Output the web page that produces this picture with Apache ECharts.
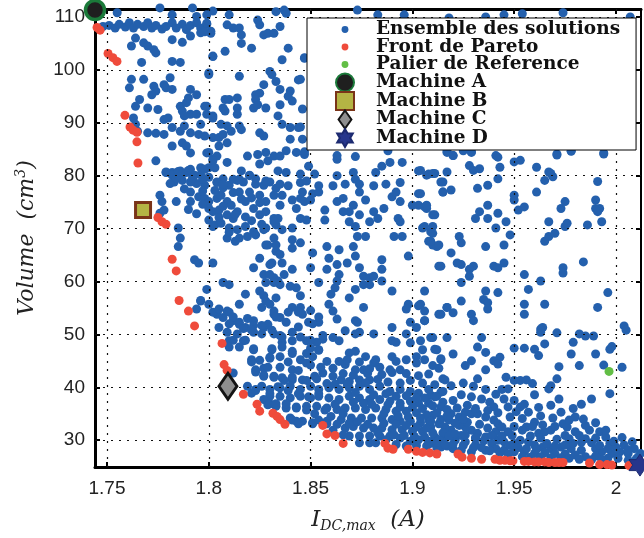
<!DOCTYPE html>
<html><head><meta charset="utf-8">
<script src="https://cdn.jsdelivr.net/npm/echarts@6/dist/echarts.min.js"></script>
<style>html,body{margin:0;padding:0;background:#fff}#c{width:644px;height:538px}</style>
</head><body><div id="c"></div>
<script>
const xTicks = [1.75, 1.8, 1.85, 1.9, 1.95, 2.0];
const yTicks = [30, 40, 50, 60, 70, 80, 90, 100, 110];
const legendNames = ['Ensemble des solutions','Front de Pareto','Palier de Reference','Machine A','Machine B','Machine C','Machine D'];

const ensembleHautGauche = [[1.748,108.2],[1.751,108.4],[1.754,107.9],[1.756,108.6],[1.759,108.1],[1.761,108.9],[1.763,107.9],[1.765,108.6],[1.768,108.2],[1.770,108.9],[1.772,107.9],[1.774,108.4],[1.777,107.7],[1.779,108.2],[1.782,108.9],[1.784,107.9],[1.787,108.6],[1.789,107.6],[1.791,108.4],[1.794,108.9],[1.796,107.9],[1.799,108.6],[1.801,107.3],[1.755,110.8],[1.776,111.7],[1.782,110.4],[1.792,111.7],[1.794,110.1],[1.802,111.1],[1.764,106.0],[1.762,104.5],[1.768,105.1],[1.770,104.5],[1.773,103.8],[1.774,103.2],[1.782,105.7],[1.787,105.2],[1.791,106.4],[1.796,107.0],[1.767,101.4],[1.782,101.6],[1.786,101.4],[1.802,102.6],[1.800,99.4],[1.762,98.2],[1.761,96.6],[1.768,98.2],[1.773,96.9],[1.778,97.2],[1.774,96.0],[1.779,96.6],[1.782,96.3],[1.772,95.3],[1.766,94.4],[1.764,93.1],[1.770,92.8],[1.775,92.5],[1.781,98.5],[1.786,93.1],[1.787,92.2],[1.789,93.8],[1.791,96.3],[1.794,95.3],[1.790,94.7],[1.791,91.6],[1.788,91.3],[1.794,91.6],[1.796,89.7],[1.799,93.1],[1.802,91.3],[1.763,90.9],[1.764,89.7],[1.765,88.4],[1.770,88.1],[1.774,88.0],[1.778,87.8],[1.778,90.6],[1.780,90.9],[1.782,89.1],[1.786,88.4],[1.788,89.4],[1.791,88.1],[1.795,87.8],[1.799,84.3],[1.802,87.2],[1.787,86.2],[1.789,85.6],[1.791,84.3],[1.782,85.6],[1.774,82.8],[1.779,80.6],[1.782,80.6],[1.786,80.9],[1.789,80.6],[1.791,81.2],[1.796,81.5],[1.800,81.5],[1.802,83.1]];

const ensembleMilieuGauche = [[1.779,80.7],[1.782,80.1],[1.785,80.8],[1.787,80.4],[1.790,81.0],[1.793,80.1],[1.796,80.2],[1.783,78.8],[1.787,79.1],[1.791,78.8],[1.794,78.5],[1.798,78.2],[1.781,78.5],[1.776,76.3],[1.784,75.1],[1.791,75.1],[1.795,76.0],[1.791,76.9],[1.798,75.7],[1.800,75.1],[1.804,75.7],[1.806,76.3],[1.809,75.1],[1.811,74.4],[1.800,73.8],[1.802,73.2],[1.805,73.5],[1.809,72.6],[1.812,71.9],[1.814,73.2],[1.800,71.6],[1.803,70.7],[1.806,71.0],[1.810,70.1],[1.814,69.8],[1.818,70.4],[1.822,69.4],[1.815,68.2],[1.809,68.2],[1.802,70.4],[1.804,78.8],[1.807,79.4],[1.810,78.2],[1.814,79.1],[1.817,78.8],[1.820,80.1],[1.823,79.4],[1.827,78.2],[1.830,78.8],[1.833,77.6],[1.815,76.9],[1.820,76.9],[1.825,76.3],[1.828,75.1],[1.832,76.3],[1.835,74.4],[1.818,75.1],[1.822,73.8],[1.825,72.6],[1.828,73.2],[1.832,71.9],[1.833,70.7],[1.828,70.1],[1.823,68.8],[1.832,68.2],[1.828,66.9],[1.833,65.7],[1.825,64.4],[1.831,63.5],[1.822,62.6],[1.827,61.3],[1.832,60.7],[1.834,60.1],[1.777,75.1],[1.776,72.9],[1.778,73.5],[1.785,70.1],[1.786,68.2],[1.785,66.6],[1.793,64.1],[1.795,63.5],[1.802,63.5],[1.807,59.8],[1.810,59.4],[1.799,58.5],[1.796,56.3],[1.794,54.8],[1.800,55.7],[1.804,53.8],[1.807,53.2],[1.809,54.4],[1.812,52.6],[1.815,51.9],[1.818,51.3],[1.822,50.4],[1.814,50.1],[1.810,48.8],[1.817,48.8],[1.822,52.6],[1.826,55.1],[1.832,53.8],[1.828,56.3],[1.833,56.9],[1.825,58.2],[1.818,57.6],[1.815,55.7],[1.805,51.3],[1.809,50.4],
[1.803,77.2],[1.807,77.7],[1.812,76.8],[1.816,75.6],[1.821,75.8],[1.825,74.9],[1.807,74.2],[1.813,72.7],[1.818,72.2],[1.821,71.5],[1.826,70.8],[1.805,72.1],[1.810,69.3],[1.819,68.5],[1.813,67.6],[1.797,77.1],[1.788,77.5],[1.792,79.6],[1.784,79.5],[1.797,74.6],[1.790,73.6],[1.794,72.8]];

const ensembleHautCentre = [[1.799,110.4],[1.799,108.8],[1.798,107.2],[1.801,106.9],[1.810,110.4],[1.809,108.5],[1.812,107.9],[1.815,107.9],[1.816,106.6],[1.824,109.4],[1.825,108.5],[1.833,111.0],[1.837,111.3],[1.838,110.7],[1.835,108.2],[1.827,106.6],[1.829,106.9],[1.832,106.9],[1.816,105.0],[1.821,104.1],[1.808,103.5],[1.802,102.5],[1.839,104.1],[1.836,101.9],[1.847,102.2],[1.800,99.1],[1.815,98.8],[1.830,99.7],[1.831,99.1],[1.833,97.8],[1.844,98.1],[1.827,97.2],[1.835,96.3],[1.840,96.0],[1.839,95.0],[1.823,95.3],[1.825,95.6],[1.823,94.4],[1.814,94.7],[1.808,94.4],[1.810,94.4],[1.798,93.1],[1.799,91.6],[1.802,90.9],[1.807,92.8],[1.808,92.2],[1.814,92.8],[1.814,91.6],[1.822,92.8],[1.824,93.4],[1.828,92.8],[1.835,93.4],[1.841,94.1],[1.834,91.3],[1.836,89.7],[1.840,89.1],[1.844,89.1],[1.806,89.7],[1.809,89.4],[1.811,88.4],[1.815,89.4],[1.816,88.7],[1.825,88.1],[1.827,87.5],[1.840,86.9],[1.805,87.2],[1.807,87.8],[1.798,87.5],[1.800,84.4],[1.805,85.6],[1.809,86.2],[1.804,83.7],[1.802,82.8],[1.798,81.2],[1.803,81.5],[1.809,82.5],[1.819,83.7],[1.824,84.0],[1.828,84.4],[1.832,83.7],[1.835,83.7],[1.838,84.7],[1.843,84.4],[1.847,84.0],[1.849,81.8],[1.825,82.2],[1.829,82.8],[1.834,80.9],[1.838,80.6],[1.845,80.3],[1.852,80.3],[1.863,83.1],[1.863,80.0],[1.871,80.6],[1.872,79.3],[1.882,80.6],[1.885,81.8],[1.889,82.5],[1.895,82.5],[1.903,80.9],[1.908,80.3],[1.816,80.9],[1.812,79.3],[1.815,79.3],[1.820,80.0],[1.823,78.4],[1.828,79.0],[1.835,78.4],[1.839,78.1],[1.845,78.7],[1.848,79.0],[1.800,79.7],[1.797,79.3],[1.804,78.7],[1.807,78.4],[1.894,78.7],[1.887,78.4],[1.881,78.1],[1.874,78.4],[1.867,78.4],[1.861,78.1],[1.854,78.1],
[1.873,111.3],[1.883,110.4],[1.896,110.4],[1.918,109.8],[1.936,110.0],[1.945,110.4],[1.954,110.6],[1.974,110.8],[2.007,110.0],[1.847,102.3],[1.845,98.2],[1.846,92.6],[1.845,89.2],[1.846,86.9],[1.847,84.5],[1.863,83.8],[1.872,83.6],[1.888,84.7],[1.917,84.7],[1.920,83.8],[1.925,84.7],[1.929,84.5],[1.941,83.8],[1.971,84.1],[1.978,84.7],[1.994,84.3]];

const ensembleCentre = [[1.836,76.3],[1.841,75.4],[1.845,75.7],[1.847,75.1],[1.850,75.4],[1.851,76.6],[1.854,76.9],[1.846,76.9],[1.843,73.8],[1.845,71.9],[1.848,71.6],[1.834,71.9],[1.832,71.3],[1.836,69.8],[1.841,70.1],[1.841,67.9],[1.845,67.3],[1.841,66.3],[1.827,69.8],[1.829,66.9],[1.833,66.9],[1.835,65.1],[1.836,63.5],[1.830,63.2],[1.830,61.3],[1.837,61.3],[1.841,62.3],[1.850,62.6],[1.851,65.4],[1.858,66.6],[1.864,66.0],[1.859,64.4],[1.858,62.3],[1.863,63.2],[1.864,61.3],[1.868,63.5],[1.871,66.6],[1.872,64.8],[1.874,62.6],[1.876,61.0],[1.879,60.7],[1.881,61.0],[1.879,59.4],[1.876,59.4],[1.872,58.5],[1.869,56.9],[1.863,60.1],[1.862,58.8],[1.860,57.6],[1.854,59.8],[1.845,57.3],[1.843,58.8],[1.840,59.1],[1.835,59.4],[1.832,59.8],[1.828,59.8],[1.827,57.3],[1.830,55.7],[1.832,54.4],[1.835,53.2],[1.841,55.1],[1.845,55.1],[1.846,53.8],[1.849,52.3],[1.854,52.3],[1.859,55.7],[1.861,54.4],[1.863,52.9],[1.872,52.6],[1.873,52.3],[1.876,55.1],[1.881,50.1],[1.890,51.3],[1.890,48.8],[1.892,48.5],[1.897,50.1],[1.899,52.3],[1.902,51.3],[1.906,52.6],[1.903,55.4],[1.898,55.7],[1.897,54.8],[1.890,58.2],[1.885,60.1],[1.885,62.3],[1.885,64.1],[1.898,64.8],[1.913,62.9],[1.917,55.1],[1.913,53.8],[1.910,49.4],[1.904,48.8],[1.917,49.4],[1.872,50.1],[1.874,50.4],[1.867,50.7],[1.864,48.8],[1.861,49.4],[1.856,49.1],[1.853,48.5],[1.848,48.8],[1.841,48.8],[1.836,48.5],[1.832,50.1],[1.835,49.8],[1.827,51.3],[1.829,51.9],[1.910,66.9],[1.912,66.6],[1.908,67.6],[1.905,70.1],[1.909,69.4],[1.910,72.6],[1.907,73.8],[1.903,74.4],[1.900,74.4],[1.903,76.6],[1.911,80.4],[1.914,78.8],[1.915,76.9],[1.894,75.1],[1.893,71.9],[1.894,71.3],[1.890,76.0],[1.892,76.9],[1.874,76.9],[1.877,75.4],[1.881,73.2],[1.883,71.9],[1.886,73.8],[1.879,71.3],[1.874,72.6],[1.869,73.2],[1.869,71.3],[1.872,70.4],[1.873,68.5],[1.877,68.5],[1.891,68.5],[1.895,68.5],[1.866,73.2],[1.863,75.1],[1.866,75.7],[1.871,74.4],[1.857,73.5],[1.857,71.6]];

const ensembleDroite = [[1.917,84.4],[1.920,83.8],[1.925,85.1],[1.929,84.4],[1.928,81.9],[1.930,81.0],[1.933,81.3],[1.942,83.5],[1.943,81.6],[1.950,82.6],[1.953,82.9],[1.961,81.6],[1.971,83.9],[1.978,84.6],[1.994,84.1],[1.904,81.0],[1.907,80.1],[1.910,80.4],[1.917,80.7],[1.915,78.8],[1.915,76.9],[1.919,77.3],[1.932,77.6],[1.937,78.2],[1.942,79.4],[1.904,76.6],[1.906,74.1],[1.907,74.4],[1.911,72.6],[1.906,70.4],[1.910,70.4],[1.910,69.1],[1.909,67.6],[1.913,66.9],[1.931,71.9],[1.933,73.2],[1.937,74.4],[1.937,71.9],[1.942,72.9],[1.941,70.1],[1.946,71.3],[1.950,76.3],[1.950,75.4],[1.952,73.5],[1.955,74.1],[1.948,68.8],[1.945,66.9],[1.936,66.6],[1.923,68.5],[1.924,67.3],[1.919,65.4],[1.961,76.9],[1.965,79.1],[1.967,80.7],[1.968,80.4],[1.969,79.8],[1.967,71.3],[1.965,67.6],[1.967,68.5],[1.970,69.1],[1.973,73.8],[1.975,75.1],[1.975,70.4],[1.976,71.0],[1.986,70.7],[1.990,75.4],[1.990,73.8],[1.992,73.8],[1.991,73.2],[1.993,71.3],[1.991,78.9],[1.984,63.7],[1.974,62.6],[1.974,61.6],[1.955,61.3],[1.963,60.1],[1.957,58.5],[1.945,63.5],[1.940,62.9],[1.942,62.6],[1.930,62.9],[1.928,62.3],[1.928,61.0],[1.924,63.2],[1.922,63.5],[1.914,62.9],[1.924,59.8],[1.936,58.2],[1.942,57.9],[1.935,56.6],[1.937,56.0],[1.937,54.8],[1.924,56.3],[1.917,55.1],[1.920,54.1],[1.914,53.8],[1.906,58.2],[1.904,55.7],[1.906,54.4],[1.906,52.6],[1.929,53.8],[1.930,52.6],[1.955,55.7],[1.955,53.8],[1.965,55.7],[1.964,51.3],[1.991,55.1],[1.996,57.9],[2.004,51.6]];

const ensembleBasDroite = [[1.909,49.4],[1.911,47.2],[1.914,45.4],[1.910,44.1],[1.920,46.3],[1.926,44.1],[1.929,45.0],[1.932,47.6],[1.934,49.4],[1.936,46.6],[1.940,45.0],[1.943,45.7],[1.942,44.4],[1.936,43.3],[1.932,41.6],[1.915,41.6],[1.919,40.3],[1.950,47.4],[1.955,47.4],[1.960,47.2],[1.962,46.0],[1.963,50.4],[1.963,51.0],[1.971,50.3],[1.965,48.2],[1.982,50.1],[1.985,49.7],[1.989,49.7],[1.979,48.5],[1.978,46.3],[1.990,46.3],[1.982,44.1],[1.972,43.9],[1.971,41.6],[1.994,44.2],[1.997,47.2],[1.998,47.7],[2.005,50.8],[2.003,43.8],[1.946,41.9],[1.950,41.3],[1.953,41.3],[1.956,41.4],[1.959,40.7],[1.967,39.7],[1.968,40.3],[1.947,39.7],[1.945,37.8],[1.950,37.5],[1.953,36.3],[1.934,37.8],[1.938,37.2],[1.940,36.3],[1.947,36.3],[1.997,38.8],[1.988,37.8],[1.983,36.8],[1.979,36.0],[1.973,35.3],[1.980,34.4],[1.974,33.1],[1.909,38.5],[1.911,38.2],[1.914,39.1],[1.915,37.2],[1.914,36.3],[1.920,37.5],[1.919,35.0],[1.908,33.8],[1.910,34.7],[1.923,34.4],[1.926,35.3],[1.929,35.0],[1.932,35.0],[1.936,34.4],[1.940,33.8],[1.942,33.1],[1.948,34.4],[1.954,34.1],[1.957,35.3],[1.960,33.4],[1.956,32.5],[1.954,31.9],[1.949,30.9],[1.962,31.3],[1.965,31.6],[1.968,31.9],[1.975,30.9],[1.980,31.6],[1.985,30.3],[1.987,31.9],[1.992,31.6],[1.995,30.6],[1.997,29.4],[2.000,28.7],[2.004,29.1],[2.008,29.7],[2.009,28.4],[2.012,27.5],[2.011,26.9],[2.006,27.5],[2.002,27.8],[1.998,27.5],[1.993,27.8],[1.990,28.4],[1.983,28.1],[1.978,28.4],[1.973,28.7],[1.968,28.4],[1.964,28.7],[1.960,29.1],[1.957,29.7],[1.953,30.0],[1.950,29.4],[1.945,29.7],[1.942,30.0],[1.939,29.4],[1.936,30.6],[1.932,31.3],[1.929,31.9],[1.926,32.5],[1.923,32.8],[1.919,31.9],[1.916,32.5],[1.913,33.1],[1.909,32.5],[1.911,30.6],[1.915,30.3],[1.921,30.0],[1.926,29.7],[1.931,29.1],[1.936,28.1],[1.941,28.4],[1.945,28.1],[1.950,27.8],[1.955,27.8],[1.960,27.5],[1.965,27.6],[1.970,27.5],[1.975,27.4],[1.980,27.2],[1.985,26.9],[1.990,27.0],[1.996,26.6],[2.001,26.6],[2.006,26.2],[1.909,29.4],[1.914,28.7],[1.920,28.4],[1.924,28.1],[1.929,27.8],[1.931,30.3],[1.947,31.6],[1.941,31.6],[1.918,33.8],[1.927,33.4],[1.924,30.9]];

const ensembleBasCentre = [[1.822,47.1],[1.821,45.2],[1.823,43.3],[1.827,43.6],[1.831,47.1],[1.830,45.5],[1.835,45.8],[1.841,46.8],[1.845,45.2],[1.841,43.3],[1.848,44.6],[1.851,45.8],[1.850,47.4],[1.854,47.1],[1.858,44.9],[1.861,43.6],[1.864,44.9],[1.867,44.3],[1.869,46.5],[1.872,43.3],[1.876,43.3],[1.881,44.6],[1.882,45.2],[1.877,45.8],[1.872,46.8],[1.890,45.8],[1.892,44.9],[1.897,45.2],[1.902,44.6],[1.906,45.2],[1.905,47.1],[1.912,47.1],[1.914,45.2],[1.913,43.6],[1.902,45.8],[1.899,48.4],[1.894,43.3],[1.889,43.3],[1.885,42.4],[1.879,41.4],[1.874,41.4],[1.869,41.1],[1.865,41.4],[1.861,42.1],[1.856,42.7],[1.852,42.1],[1.846,41.4],[1.841,41.4],[1.836,41.8],[1.832,42.1],[1.827,42.1],[1.823,39.6],[1.821,38.9],[1.826,40.2],[1.830,39.6],[1.835,39.9],[1.840,40.2],[1.845,39.6],[1.850,40.2],[1.854,39.6],[1.859,39.9],[1.864,39.6],[1.869,39.9],[1.874,40.2],[1.879,39.6],[1.884,40.2],[1.889,39.2],[1.894,39.6],[1.899,39.2],[1.903,38.9],[1.908,39.6],[1.912,38.3],[1.916,41.4],[1.915,39.2],[1.908,37.0],[1.903,37.0],[1.899,37.4],[1.894,37.0],[1.889,37.4],[1.884,37.7],[1.879,37.7],[1.874,38.0],[1.869,38.3],[1.864,37.7],[1.859,38.0],[1.854,38.3],[1.850,38.0],[1.845,38.3],[1.840,38.0],[1.835,38.3],[1.830,38.3],[1.827,37.7],[1.829,36.7],[1.833,36.4],[1.838,36.1],[1.843,36.1],[1.848,36.4],[1.853,36.4],[1.858,36.1],[1.863,35.8],[1.867,36.1],[1.872,36.1],[1.877,35.8],[1.882,36.1],[1.887,35.8],[1.892,35.5],[1.897,35.5],[1.902,35.2],[1.907,34.8],[1.912,35.2],[1.917,35.8],[1.914,33.9],[1.909,33.6],[1.904,33.3],[1.899,33.6],[1.894,33.6],[1.890,33.9],[1.885,34.2],[1.880,34.2],[1.875,34.2],[1.870,34.2],[1.865,33.9],[1.860,34.5],[1.840,34.2],[1.843,33.6],[1.846,33.6],[1.851,33.3],[1.858,33.6],[1.863,33.0],[1.867,32.3],[1.871,32.6],[1.876,32.3],[1.881,32.3],[1.885,32.3],[1.890,32.0],[1.895,32.0],[1.900,31.7],[1.905,31.7],[1.910,31.4],[1.915,31.4],[1.918,30.8],[1.913,30.1],[1.908,29.8],[1.903,30.1],[1.899,29.8],[1.894,30.4],[1.889,30.8],[1.884,30.8],[1.879,30.8],[1.874,30.8],[1.869,30.8],[1.874,29.5],[1.879,29.5],[1.882,29.5],[1.892,29.2],[1.897,28.9],[1.902,29.0],[1.907,28.9],[1.912,28.6],[1.917,28.9],
[1.796,56.4],[1.802,54.2],[1.805,54.8],[1.810,54.2],[1.812,53.3],[1.810,52.0],[1.815,52.3],[1.819,53.0],[1.817,51.1],[1.822,51.7],[1.826,51.7],[1.833,53.3],[1.839,54.2],[1.844,54.2],[1.850,54.5],[1.854,53.3],[1.851,52.0],[1.844,51.4],[1.838,52.3],[1.831,50.8],[1.826,50.1],[1.821,50.8],[1.812,48.9],[1.818,48.9],[1.815,47.6],[1.822,47.3],[1.810,47.6],[1.831,47.3],[1.836,49.5],[1.841,50.4],[1.845,49.5],[1.850,48.9],[1.856,49.8],[1.854,47.0],[1.848,46.4],[1.841,46.4],[1.836,47.6],[1.830,45.7],[1.825,45.1],[1.821,44.8],[1.829,43.8],[1.835,43.8],[1.839,44.8],[1.844,43.2],[1.850,44.2],[1.855,43.8],[1.853,41.6],[1.848,41.3],[1.841,41.9],[1.837,41.3],[1.832,41.9],[1.827,42.3],[1.823,42.9],[1.819,40.2],[1.812,42.7],[1.823,39.4],[1.830,38.8],[1.834,40.1],[1.839,39.4],[1.844,38.8],[1.849,38.2],[1.854,38.8],[1.858,40.7],[1.830,36.9],[1.833,36.9],[1.838,36.9],[1.843,36.3],[1.848,35.7],[1.852,35.0],[1.857,35.7],[1.841,33.8],[1.844,33.1],[1.851,33.1],[1.854,33.8],[1.858,33.1]];

const ensembleBandeDense = [[1.861,31.9],[1.866,31.0],[1.869,33.2],[1.873,33.5],[1.878,33.0],[1.862,36.8],[1.866,35.0],[1.871,37.2],[1.876,37.0],[1.880,36.8],[1.862,40.6],[1.868,40.5],[1.872,39.0],[1.877,40.8],[1.881,38.6],[1.866,42.6],[1.871,42.3],[1.878,42.6],[1.883,41.5],[1.868,45.2],[1.874,44.8],[1.879,43.5],[1.884,43.8],
[1.883,31.4],[1.887,30.1],[1.891,31.0],[1.896,30.9],[1.901,30.7],[1.906,30.6],[1.886,33.2],[1.892,33.0],[1.897,32.8],[1.902,32.5],[1.907,32.3],[1.886,35.0],[1.893,34.6],[1.898,34.4],[1.904,34.2],[1.888,36.7],[1.894,36.3],[1.900,36.2],[1.905,36.0],[1.887,38.8],[1.892,38.3],[1.897,38.4],[1.902,38.0],[1.906,38.0],[1.888,41.0],[1.894,40.8],[1.899,41.3],[1.905,40.8],[1.890,42.8],[1.897,42.6],[1.903,42.2],[1.908,42.5],[1.911,40.5],[1.910,36.5],
[1.912,29.6],[1.916,29.2],[1.920,29.3],[1.925,29.0],[1.930,28.6],[1.934,28.6],[1.938,28.0],[1.943,27.6],[1.947,27.4],[1.921,31.2],[1.926,31.0],[1.931,30.5],[1.935,29.9],[1.939,30.9],[1.944,30.8],[1.948,29.0],[1.917,34.6],[1.921,33.2],[1.925,34.0],[1.933,33.0],[1.937,32.3],[1.944,32.5],[1.950,32.6],[1.922,36.1],[1.927,36.6],[1.931,36.0],[1.937,35.6],[1.942,35.2],[1.951,35.4],[1.924,38.6],[1.929,38.2],[1.936,39.6],[1.941,38.7],[1.944,39.6],[1.925,40.8],[1.930,40.2],
[1.952,28.6],[1.956,28.4],[1.961,28.3],[1.966,29.4],[1.970,28.9],[1.975,29.1],[1.979,29.4],[1.983,29.6],[1.988,29.5],[1.992,29.0],[1.996,28.4],[1.999,29.8],[1.954,26.9],[1.958,26.8],[1.963,26.8],[1.968,26.7],[1.973,26.7],[1.977,26.6],[1.982,26.4],[1.988,26.3],[1.993,26.3],[1.958,30.8],[1.963,30.4],[1.971,30.2],[1.977,30.3],[1.982,30.9],[1.990,30.4],[1.995,31.9],[1.959,32.6],[1.964,32.9],[1.970,32.6],[1.976,32.5],[1.985,32.8],[1.990,33.3],[1.963,34.6],[1.969,34.2],[1.977,33.8],[1.984,34.0],[1.955,36.8],[1.962,36.2],[1.968,36.6],[1.960,38.6],[1.972,37.8],[2.003,30.5],[2.006,28.2],[2.010,26.5]];

const frontPareto = [[1.7451,108.0],[1.7466,107.5],[1.7505,103.1],[1.7529,102.3],[1.7549,101.6],[1.7588,91.4],[1.7613,89.2],[1.7628,88.6],[1.7647,88.2],[1.7647,86.4],[1.7652,82.4],[1.775,72.1],[1.777,71.3],[1.779,70.8],[1.782,64.2],[1.784,62.0],[1.7854,56.4],[1.790,54.4],[1.793,51.6],[1.8065,48.3],[1.8075,44.3],[1.809,43.2],[1.817,38.7],[1.8237,36.8],[1.825,35.5],[1.8315,35.1],[1.8335,34.5],[1.835,33.9],[1.8374,33.0],[1.856,32.8],[1.858,31.2],[1.862,30.9],[1.866,29.4],[1.8865,29.4],[1.888,28.5],[1.8905,28.3],[1.898,28.3],[1.902,27.9],[1.905,27.7],[1.9086,27.6],[1.912,27.4],[1.9224,27.4],[1.9244,26.8],[1.929,26.6],[1.934,26.4],[1.9406,26.4],[1.943,26.2],[1.9455,26.2],[1.948,26.1],[1.9494,26.1],[1.955,26.0],[1.957,26.0],[1.960,25.9],[1.962,25.9],[1.965,25.9],[1.967,25.8],[1.970,25.8],[1.972,25.8],[1.974,25.8],[1.987,25.7],[1.992,25.4],[1.9956,25.4],[1.998,25.3],[2.0064,25.2]];

const palierReference = [[1.9966, 43.0]];
const machineA = [[1.7441, 111.3]];
const machineB = [[1.7677, 73.5]];
const machineC = [[1.8094, 40.2]];
const machineD = [[2.0118, 25.3]];

const ensemble = [].concat(ensembleHautGauche, ensembleMilieuGauche, ensembleHautCentre, ensembleCentre, ensembleDroite, ensembleBasDroite, ensembleBasCentre, ensembleBandeDense);

const hexagram = 'path://M0,-10L2.887,-5L8.66,-5L5.774,0L8.66,5L2.887,5L0,10L-2.887,5L-8.66,5L-5.774,0L-8.66,-5L-2.887,-5Z';
const dotIcon = 'path://M0,0M20,20M10,6.2A3.8,3.8,0,1,1,10,13.8A3.8,3.8,0,1,1,10,6.2Z';
const diamondIcon = 'path://M0,-14L10,0L0,14L-10,0Z';

const BLUE = '#2460ad', RED = '#ef4b3b', GREEN = '#62be45';
const tickFont = {fontFamily: 'Liberation Sans', fontSize: 19, color: '#222'};
const serif = 'DejaVu Serif';

const chart = echarts.init(document.getElementById('c'), null, {renderer: 'canvas'});
const gridLines = xTicks.map(v => ({xAxis: v})).concat(yTicks.map(v => ({yAxis: v})));

chart.setOption({
  animation: false,
  backgroundColor: '#fff',
  grid: {left: 95, top: 9, width: 546, height: 462, containLabel: false},
  xAxis: [{
    type: 'value', min: 1.7441, max: 2.0123, position: 'bottom',
    axisLine: {show: true, onZero: false, lineStyle: {color: '#000', width: 3}},
    axisTick: {show: true, inside: true, length: 5, customValues: xTicks, lineStyle: {color: '#000', width: 2}},
    axisLabel: {show: true, customValues: xTicks, margin: 12, ...tickFont, formatter: v => String(v)},
    splitLine: {show: false},
    name: '{i|I}{s|DC,max}{n|  (A)}', nameLocation: 'middle', nameGap: 40,
    nameTextStyle: {fontFamily: serif, fontStyle: 'italic', fontSize: 23, color: '#222',
      rich: {i: {fontFamily: serif, fontStyle: 'italic', fontSize: 23, color: '#222'},
             s: {fontFamily: serif, fontStyle: 'italic', fontSize: 14, color: '#222', padding: [12, 0, 0, 0]},
             n: {fontFamily: serif, fontStyle: 'italic', fontSize: 23, color: '#222'}}}
  }, {
    type: 'value', min: 1.7441, max: 2.0123, position: 'top',
    axisLine: {show: true, onZero: false, lineStyle: {color: '#000', width: 3}},
    axisTick: {show: true, inside: true, length: 5, customValues: xTicks, lineStyle: {color: '#000', width: 2}},
    axisLabel: {show: false}, splitLine: {show: false}
  }],
  yAxis: [{
    type: 'value', min: 24.94, max: 111.5, position: 'left',
    axisLine: {show: true, onZero: false, lineStyle: {color: '#000', width: 3}},
    axisTick: {show: true, inside: true, length: 5, customValues: yTicks, lineStyle: {color: '#000', width: 2}},
    axisLabel: {show: true, customValues: yTicks, margin: 10, ...tickFont},
    splitLine: {show: false},
    name: '{v|Volume  (cm}{e|3}{v|)}', nameLocation: 'middle', nameGap: 55, nameRotate: 90,
    nameTextStyle: {fontFamily: serif, fontStyle: 'italic', fontSize: 22, color: '#222',
      rich: {v: {fontFamily: serif, fontStyle: 'italic', fontSize: 22, color: '#222'},
             e: {fontFamily: serif, fontStyle: 'italic', fontSize: 14, color: '#222', padding: [0, 0, 12, 0]}}}
  }, {
    type: 'value', min: 24.94, max: 111.5, position: 'right',
    axisLine: {show: true, onZero: false, lineStyle: {color: '#000', width: 2}},
    axisTick: {show: true, inside: true, length: 5, customValues: yTicks, lineStyle: {color: '#000', width: 2}},
    axisLabel: {show: false}, splitLine: {show: false}
  }],
  legend: {
    orient: 'vertical', left: 307, top: 18, padding: [2, 16, 2, 28],
    backgroundColor: '#fff', borderColor: '#000', borderWidth: 1, borderRadius: 0,
    itemWidth: 18, itemHeight: 18, itemGap: -1.5, z: 20, selectedMode: false,
    textStyle: {fontFamily: serif, fontSize: 18.5, fontWeight: 'bold', color: '#111', padding: [0, 0, 0, 17]},
    data: [
      {name: legendNames[0], icon: dotIcon},
      {name: legendNames[1], icon: dotIcon},
      {name: legendNames[2], icon: dotIcon},
      {name: legendNames[3], icon: 'circle'},
      {name: legendNames[4], icon: 'rect'},
      {name: legendNames[5], icon: diamondIcon},
      {name: legendNames[6], icon: hexagram}
    ]
  },
  series: [
    {name: 'grille', type: 'scatter', data: [], z: 1, silent: true,
     markLine: {silent: true, symbol: ['none', 'none'], label: {show: false}, animation: false,
       lineStyle: {type: [2, 6], color: '#111', width: 1.2}, emphasis: {disabled: true}, data: gridLines}},
    {name: legendNames[0], type: 'scatter', data: ensemble, symbol: 'circle', symbolSize: 9, clip: false, z: 2,
     itemStyle: {color: BLUE, opacity: 1}},
    {name: legendNames[1], type: 'scatter', data: frontPareto, symbol: 'circle', symbolSize: 9, clip: false, z: 3,
     itemStyle: {color: RED, opacity: 1}},
    {name: legendNames[2], type: 'scatter', data: palierReference, symbol: 'circle', symbolSize: 9, clip: false, z: 4,
     itemStyle: {color: GREEN, opacity: 1}},
    {name: legendNames[3], type: 'scatter', data: machineA, symbol: 'circle', symbolSize: 19, clip: false, z: 5,
     itemStyle: {color: '#1f1f1f', borderColor: '#1b7a3a', borderWidth: 3.5, opacity: 1}},
    {name: legendNames[4], type: 'scatter', data: machineB, symbol: 'rect', symbolSize: 15, clip: false, z: 5,
     itemStyle: {color: '#b4b444', borderColor: '#7a3418', borderWidth: 3, opacity: 1}},
    {name: legendNames[5], type: 'scatter', data: machineC, symbol: diamondIcon, symbolSize: [18, 26], clip: false, z: 5,
     itemStyle: {color: '#8e8e8e', borderColor: '#141414', borderWidth: 3, opacity: 1}},
    {name: legendNames[6], type: 'scatter', data: machineD, symbol: hexagram, symbolSize: 22, clip: false, z: 5,
     itemStyle: {color: '#26368c', borderColor: '#1c2a70', borderWidth: 1, opacity: 1}}
  ]
});
</script></body></html>
